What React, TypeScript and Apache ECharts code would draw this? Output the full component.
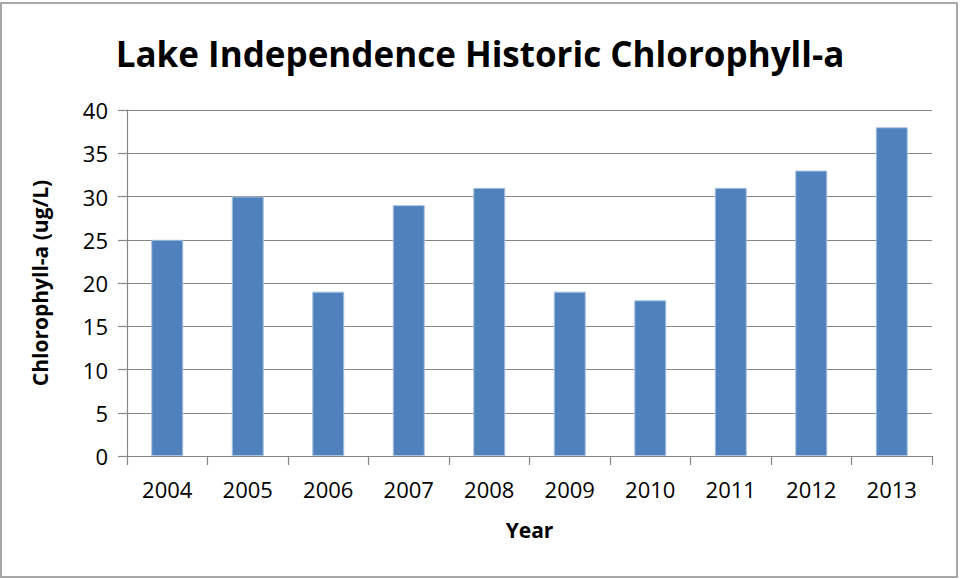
import React, { useEffect, useRef } from "react";
import * as echarts from "echarts";

const years = ["2004", "2005", "2006", "2007", "2008", "2009", "2010", "2011", "2012", "2013"];
const chlorophyll = [25, 30, 19, 29, 31, 19, 18, 31, 33, 38];
const titleText = "Lake Independence Historic Chlorophyll-a";
const yAxisName = "Chlorophyll-a (ug/L)";
const xAxisName = "Year";

const FONT = "'Open Sans', 'Noto Sans', sans-serif";

export default function App() {
  const ref = useRef<HTMLDivElement>(null);
  useEffect(() => {
    if (!ref.current) return;
    const chart = echarts.init(ref.current, null, { renderer: "svg" });
    chart.setOption({
      animation: false,
      backgroundColor: "#ffffff",
      title: {
        text: titleText,
        left: "center",
        top: 31,
        textStyle: { fontFamily: FONT, fontWeight: "bold", fontSize: 35, color: "#000" },
      },
      graphic: [
        {
          type: "rect",
          shape: { x: 1, y: 3, width: 956, height: 574 },
          style: { fill: "none", stroke: "#8c8c8c", lineWidth: 1.5 },
          silent: true,
        },
      ],
      grid: { left: 127, right: 28, top: 110, bottom: 123 },
      xAxis: {
        type: "category",
        data: years,
        name: xAxisName,
        nameLocation: "middle",
        nameGap: 63,
        nameTextStyle: { fontFamily: FONT, fontWeight: "bold", fontSize: 21, color: "#000" },
        axisLine: { show: true, lineStyle: { color: "#868686", width: 1.2 } },
        axisTick: { show: true, length: 9, alignWithLabel: false, lineStyle: { color: "#868686", width: 1.2 } },
        axisLabel: { fontFamily: FONT, fontSize: 22, color: "#000", margin: 22 },
        splitLine: { show: false },
      },
      yAxis: {
        type: "value",
        min: 0,
        max: 40,
        interval: 5,
        name: yAxisName,
        nameLocation: "middle",
        nameGap: 77,
        nameTextStyle: { fontFamily: FONT, fontWeight: "bold", fontSize: 21, color: "#000" },
        axisLine: { show: true, lineStyle: { color: "#868686", width: 1.2 } },
        axisTick: { show: true, length: 9, lineStyle: { color: "#868686", width: 1.2 } },
        axisLabel: { fontFamily: FONT, fontSize: 22, color: "#000", margin: 19 },
        splitLine: { show: true, lineStyle: { color: "#868686", width: 1.2 } },
      },
      series: [
        {
          type: "bar",
          data: chlorophyll,
          barWidth: 32,
          itemStyle: { color: "#4F81BD", borderColor: "#a9c1df", borderWidth: 1 },
        },
      ],
    });
    return () => chart.dispose();
  }, []);
  return (
    <div
      ref={ref}
      style={{ position: "fixed", left: 0, top: 0, width: 960, height: 579 }}
    />
  );
}
